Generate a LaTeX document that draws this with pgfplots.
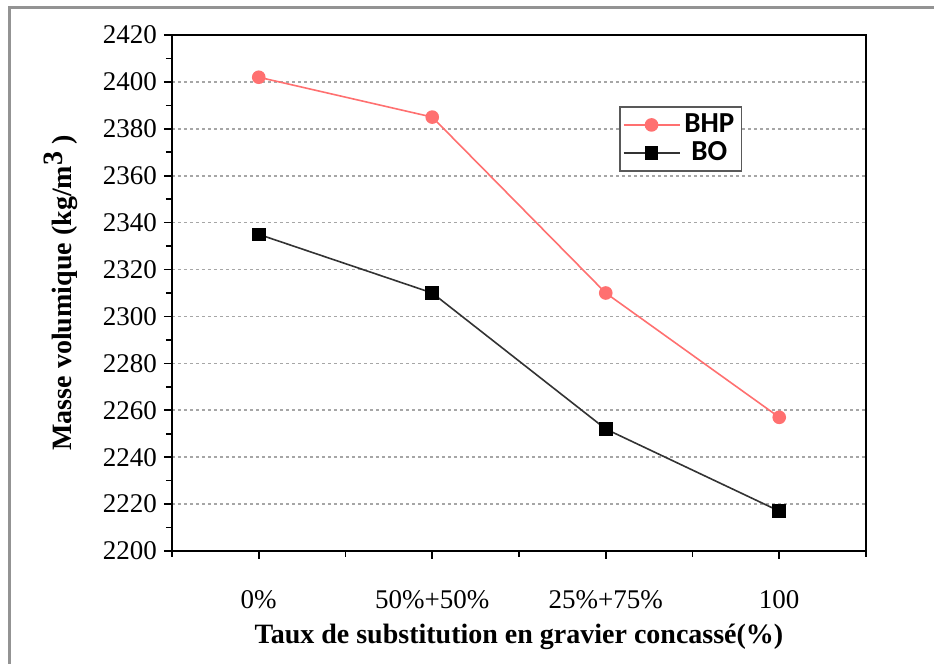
\documentclass[border=0pt]{standalone}
\usepackage{pgfplots}
\pgfplotsset{compat=1.18}
\usepackage{fontspec}
\setmainfont{Liberation Serif}
\newfontfamily\legfont{Carlito}
\definecolor{bhp}{RGB}{255,112,112}
\begin{document}
\begin{tikzpicture}
\useasboundingbox (-86pt,-56.5pt) rectangle (381pt,275.5pt);
\draw[gray!85, line width=1.5pt] (-81pt,-60pt) -- (-81pt,271.5pt) -- (390pt,271.5pt);
\begin{axis}[
 at={(0,0)}, anchor=south west,
 width=347pt, height=258pt, scale only axis,
 xmin=-0.5, xmax=3.5, ymin=2200, ymax=2420,
 xtick={0,1,2,3}, xticklabels={0\%,50\%+50\%,25\%+75\%,100},
 minor xtick={-0.5,0.5,1.5,2.5,3.5},
 ytick={2200,2220,...,2420},
 minor y tick num=1,
 tick align=outside, xtick pos=bottom, ytick pos=left,
 major tick length=4pt, minor tick length=3pt,
 every tick/.style={black, line width=0.8pt},
 ymajorgrids, grid style={gray!70, line width=0.8pt, dash pattern=on 1.5pt off 1.5pt},
 axis line style={line width=1pt},
 tick label style={font=\rmfamily\fontsize{13.5}{15}\selectfont},
 /pgf/number format/assume math mode=true,
 /pgf/number format/set thousands separator={},
 xticklabel style={yshift=-12pt},
 xlabel={Taux de substitution en gravier concassé(\%)},
 xlabel style={font=\rmfamily\fontsize{14}{16}\selectfont\bfseries, yshift=-1pt},
 ylabel={Masse volumique (kg/m\raisebox{0.7ex}{3} )},
 ylabel style={font=\rmfamily\fontsize{14}{16}\selectfont\bfseries, yshift=6pt},
 legend style={at={(rel axis cs:0.644,0.862)}, anchor=north west, draw=gray!70!black, line width=0.8pt,
   font=\legfont\bfseries\fontsize{14.5}{16}\selectfont, row sep=-1pt, inner sep=1.5pt},
 legend image code/.code={\draw[mark repeat=2,mark phase=2] plot coordinates {(0pt,0pt)(14pt,0pt)(28pt,0pt)};},
]
\addplot[color=bhp, line width=0.8pt, mark=*, mark size=3pt, mark options={fill=bhp, draw=bhp}] coordinates {(0,2402)(1,2385)(2,2310)(3,2257)};
\addlegendentry{BHP}
\addplot[color=black!80, line width=0.8pt, mark=square*, mark size=3pt, mark options={fill=black, draw=black}] coordinates {(0,2335)(1,2310)(2,2252)(3,2217)};
\addlegendentry{BO}
\end{axis}
\end{tikzpicture}
\end{document}
